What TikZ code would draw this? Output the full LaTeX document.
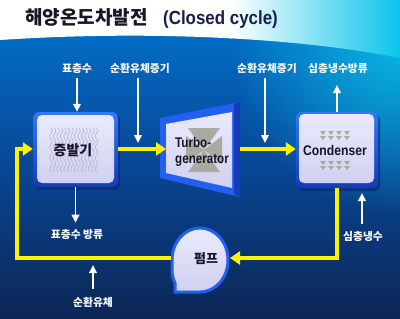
\documentclass[tikz,border=0pt]{standalone}
\usepackage{fontspec}
\setmainfont{Liberation Sans}
\newfontfamily\kr{Noto Sans CJK KR}
\usetikzlibrary{arrows.meta,fadings}
\definecolor{bgTop}{RGB}{0,118,208}
\definecolor{bgMid}{RGB}{8,72,152}
\definecolor{bgBot}{RGB}{12,38,85}
\definecolor{tcyan}{RGB}{10,195,235}
\definecolor{ylw}{RGB}{255,242,0}
\definecolor{boxBlueL}{RGB}{50,120,255}
\definecolor{boxBlue}{RGB}{35,95,240}
\definecolor{boxBlueD}{RGB}{20,60,185}
\definecolor{lavT}{RGB}{234,234,252}
\definecolor{lavB}{RGB}{208,208,240}
\definecolor{txtDark}{RGB}{22,22,40}
\definecolor{titleEn}{RGB}{25,30,75}
\definecolor{waveC}{RGB}{172,168,210}
\definecolor{triC}{RGB}{170,170,162}
\tikzfading[name=glowfade, inner color=transparent!15, outer color=transparent!100]
\begin{document}
\begin{tikzpicture}[x=1pt,y=-1pt,
  outerbox/.style={rounded corners=6pt, top color=boxBlueL, bottom color=boxBlueD, draw=none, inner sep=0pt},
  innerbox/.style={rounded corners=5pt, top color=lavT, bottom color=lavB, draw=none, inner sep=0pt},
  yline/.style={draw=ylw, line width=4.3pt, miter limit=10, -{Triangle[length=10pt,width=13pt]}},
  warrow/.style={draw=white, line width=1.9pt, -{Triangle[length=8pt,width=7.5pt]}},
  lbl/.style={text=white, inner sep=1pt, font=\kr\bfseries\fontsize{10.8}{10.8}\selectfont},
  boxtxt/.style={text=txtDark, inner sep=0pt},
  wave/.style={draw=waveC, line width=0.5pt},
  tri/.style={fill=triC}
]
\useasboundingbox (0,0) rectangle (400,319);
% background
\shade[top color=bgTop, bottom color=bgBot, middle color=bgMid] (0,0) rectangle (400,319);
\fill[tcyan, path fading=glowfade] (400,45) circle (170);
% title band
\begin{scope}
  \clip (0,0) -- (400,0) -- (400,58) .. controls (300,38) and (150,30) .. (0,40) -- cycle;
  \fill[white] (0,0) rectangle (232,60);
  \shade[left color=white, right color=tcyan] (230,0) rectangle (400,60);
\end{scope}
\node[anchor=base west, inner sep=0pt, text=txtDark] (titleKr) at (25,24) {\kr\bfseries\fontsize{19}{19}\selectfont 해양온도차발전};
\node[anchor=base west, inner sep=0pt, text=titleEn] (titleEnN) at (163,24) {\scalebox{0.89}[1]{\bfseries\fontsize{19}{19}\selectfont (Closed cycle)}};

% evaporator
\fill[boxBlueD!60!black, rounded corners=6pt, opacity=0.6] (35,114) rectangle (120,190);
\node[outerbox, minimum width=85pt, minimum height=75pt] (evapO) at (75.5,149.5) {};
\node[innerbox, minimum width=77pt, minimum height=68pt] (evap) at (75.5,149) {};
\foreach \i in {0,...,13}
  \draw[wave] plot[domain=128:172, samples=30, smooth] ({51+\i*3.5+1.3*sin((\x-128)*33)}, \x);
\node[boxtxt] (evapT) at (73,150) {\kr\bfseries\fontsize{14}{14}\selectfont 증발기};

% turbine
\fill[boxBlue] (160,118) -- (240,102) -- (240,197) -- (160,178) -- cycle;
\fill[boxBlueD] (234,104) -- (240,102) -- (240,197) -- (234,194) -- cycle;
\shade[top color=lavT, bottom color=lavB] (166,124) -- (232,112) -- (232,188) -- (166,173) -- cycle;
\fill[triC] (188,128) -- (220,128) -- (204,150) -- cycle;
\fill[triC] (188,172) -- (220,172) -- (204,150) -- cycle;
\fill[triC] (222,136) -- (222,164) -- (204,150) -- cycle;
\fill[triC] (186,136) -- (186,164) -- (204,150) -- cycle;
\node[boxtxt, anchor=west] (turbT) at (175,152) {\scalebox{0.83}[1]{\bfseries\fontsize{14}{16}\selectfont\begin{tabular}{@{}l@{}}Turbo-\\generator\end{tabular}}};
\coordinate (turbL) at (166,149);
\coordinate (turbR) at (240,149);

% condenser
\fill[boxBlueD!60!black, rounded corners=6pt, opacity=0.6] (298,114) rectangle (380,191);
\node[outerbox, minimum width=82pt, minimum height=76pt] (condO) at (337,150) {};
\node[innerbox, minimum width=75pt, minimum height=69pt] (cond) at (336.5,148.5) {};
\foreach \xx in {323,331,339,347}
  \foreach \yy in {133,138,163,168}
    \fill[tri] (\xx-3,\yy-2) -- (\xx+3,\yy-2) -- (\xx,\yy+2) -- cycle;
\node[boxtxt] (condT) at (335,150) {\scalebox{0.87}[1]{\bfseries\fontsize{14}{14}\selectfont Condenser}};

% pump
\path[top color=lavT, bottom color=lavB, draw=boxBlue, line width=3pt]
  (172,260) arc[start angle=180, end angle=450, x radius=28, y radius=32]
  -- (175,292) -- (175,283) .. controls (172,276) .. (172,260) -- cycle;
\node[boxtxt] (pump) at (206,259) {\kr\bfseries\fontsize{13}{13}\selectfont 펌프};
\coordinate (pumpE) at (230,258);
\coordinate (pumpW) at (171,258);
\coordinate (loopBL) at (17,258);
\coordinate (loopTL) at (17,149);

% yellow circuit
\draw[yline] (evapO.east |- turbL) -- (turbL);
\draw[yline] (turbR) -- (condO.west |- turbR);
\draw[yline] (condO.south) -- (condO.south |- pumpE) -- (pumpE);
\draw[yline] (pumpW) -- (loopBL) -- (loopTL) -- (evapO.west |- loopTL);

% labels and white arrows
\node[lbl] (lbA) at (77,68) {표층수};
\draw[warrow, shorten <=4pt] (lbA.south) -- (lbA.south |- evapO.north);
\node[lbl] (lbB) at (140,68) {순환유체증기};
\coordinate (jB) at (138,143);
\draw[warrow, shorten <=4pt] (jB |- lbB.south) -- (jB);
\node[lbl] (lbC) at (267,68) {순환유체증기};
\coordinate (jC) at (265,143);
\draw[warrow, shorten <=4pt] (jC |- lbC.south) -- (jC);
\node[lbl] (lbD) at (338,68) {심층냉수방류};
\coordinate (jD) at (337,85);
\draw[warrow] (condO.north) -- (jD);
\node[lbl] (lbE) at (77,234) {표층수 방류};
\draw[warrow, shorten >=5pt] (evapO.south) -- (evapO.south |- lbE.north);
\node[lbl] (lbF) at (363,236) {심층냉수};
\coordinate (jF) at (362,193);
\draw[warrow, shorten <=6pt] (jF |- lbF.north) -- (jF);
\node[lbl] (lbG) at (93,302) {순환유체};
\coordinate (jG) at (93,265);
\draw[warrow, shorten <=7pt] (lbG.north) -- (jG);
\end{tikzpicture}
\end{document}
